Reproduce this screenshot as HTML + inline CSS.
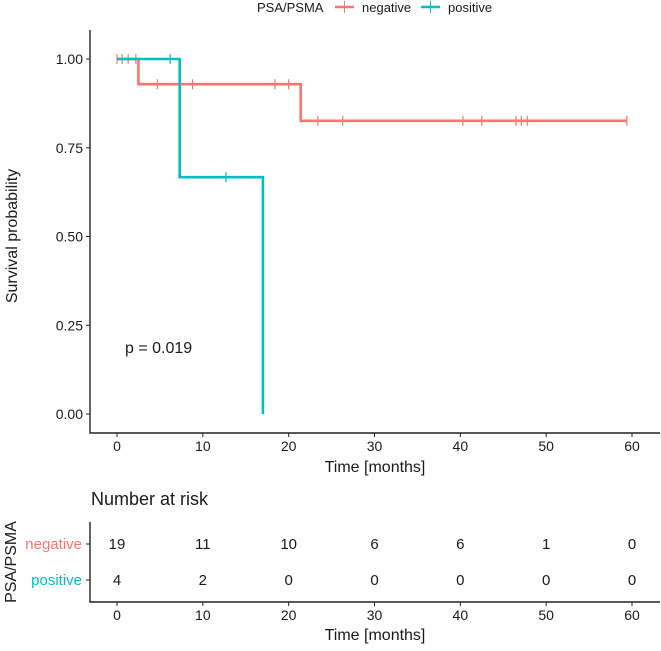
<!DOCTYPE html>
<html><head><meta charset="utf-8"><style>
body{margin:0;background:#fff}
svg text{font-family:"Liberation Sans",sans-serif;fill:#1a1a1a}
</style></head><body>
<svg width="661" height="646" xmlns="http://www.w3.org/2000/svg">
<g id="legend">
<text x="257" y="12" font-size="13">PSA/PSMA</text>
<g><line x1="335" x2="354" y1="7" y2="7" stroke="#F8766D" stroke-width="2.5"/><line x1="344.5" x2="344.5" y1="1" y2="13" stroke="#F8766D" stroke-width="1"/><text x="362" y="12" font-size="13">negative</text></g>
<g><line x1="421" x2="440" y1="7" y2="7" stroke="#00BFC4" stroke-width="2.5"/><line x1="430.5" x2="430.5" y1="1" y2="13" stroke="#00BFC4" stroke-width="1"/><text x="448" y="12" font-size="13">positive</text></g>
</g>
<g id="main"></g>
<g id="table"></g>
</svg>
<script>
const xTicks=[0,10,20,30,40,50,60];
const yTicks=[0,0.25,0.5,0.75,1];
const yTickLabels=["0.00","0.25","0.50","0.75","1.00"];
const negTimes=[0,2.5,21.4,59.4];
const negSurv=[1,0.929,0.826,0.826];
const negCensor=[0,0.6,1.3,2.2,4.7,8.8,18.4,20,23.4,26.3,40.3,42.5,46.5,47.1,47.8,59.4];
const posTimes=[0,7.3,17];
const posSurv=[1,0.667,0];
const posCensor=[6.2,12.7];
const groups=["negative","positive"];
const riskNeg=[19,11,10,6,6,1,0];
const riskPos=[4,2,0,0,0,0,0];
const NS="http://www.w3.org/2000/svg";
const X=t=>117+t*(632-117)/60;
const Y=s=>414-s*(414-59);
function mk(tag,attrs,parent){const e=document.createElementNS(NS,tag);for(const k in attrs)e.setAttribute(k,attrs[k]);parent.appendChild(e);return e;}
const main=document.getElementById('main'),tab=document.getElementById('table');
let a=mk('path',{d:'M90,30V433H660',fill:'none',stroke:'#222','stroke-width':1.4},main);


yTicks.forEach((v,i)=>{
 const l=mk('line',{x1:86,x2:90,y1:Y(v),y2:Y(v),stroke:'#222'},main);
 
 
 const t=mk('text',{x:83,y:Y(v)+5,'text-anchor':'end','font-size':14},main);t.textContent=yTickLabels[i];
 
 
});
function xaxis(g,yb,ty){xTicks.forEach(v=>{
 const l=mk('line',{x1:X(v),x2:X(v),y1:yb,y2:yb+4,stroke:'#222'},g);
 
 
 const t=mk('text',{x:X(v),y:ty,'text-anchor':'middle','font-size':14},g);t.textContent=v;
 
 
});}
xaxis(main,433,451);
let tt=mk('text',{x:375,y:472,'text-anchor':'middle','font-size':16},main);tt.textContent='Time [months]';


let yt=mk('text',{x:0,y:0,'text-anchor':'middle','font-size':16,transform:'translate(17,236) rotate(-90)'},main);yt.textContent='Survival probability';


let pv=mk('text',{x:125,y:353,'font-size':16},main);pv.textContent='p = 0.019';


function curve(times,surv,cens,col,name){
 let d='M'+X(times[0])+','+Y(surv[0]);
 for(let i=1;i<times.length;i++){d+='H'+X(times[i])+'V'+Y(surv[i]);}
 const p=mk('path',{d:d,fill:'none',stroke:col,'stroke-width':2.6},main);
 
 
 cens.forEach(c=>{let s=surv[0];for(let i=0;i<times.length;i++)if(times[i]<=c)s=surv[i];
  const m=mk('line',{x1:X(c),x2:X(c),y1:Y(s)-5,y2:Y(s)+5,stroke:col,'stroke-width':1.2},main);
  
  });
}
curve(negTimes,negSurv,negCensor,'#F8766D','negative');
curve(posTimes,posSurv,posCensor,'#00BFC4','positive');
let nr=mk('text',{x:91,y:505,'font-size':18},tab);nr.textContent='Number at risk';


let ta=mk('path',{d:'M90,522V602H660',fill:'none',stroke:'#222','stroke-width':1.4},tab);


xaxis(tab,602,620);
let tt2=mk('text',{x:375,y:640,'text-anchor':'middle','font-size':16},tab);tt2.textContent='Time [months]';


let yt2=mk('text',{x:0,y:0,'text-anchor':'middle','font-size':16,transform:'translate(16,562) rotate(-90)'},tab);yt2.textContent='PSA/PSMA';


const rows=[[riskNeg,544,'#F8766D'],[riskPos,580,'#00BFC4']];
rows.forEach((r,ri)=>{
 const l=mk('line',{x1:86,x2:90,y1:r[1],y2:r[1],stroke:'#222'},tab);
 
 
 const g=mk('text',{x:82,y:r[1]+5,'text-anchor':'end','font-size':15,style:'fill:'+r[2]},tab);g.textContent=groups[ri];
 
 
 r[0].forEach((n,i)=>{const t=mk('text',{x:X(xTicks[i]),y:r[1]+5,'text-anchor':'middle','font-size':15},tab);t.textContent=n;
  
  });
});
</script>
</body></html>
